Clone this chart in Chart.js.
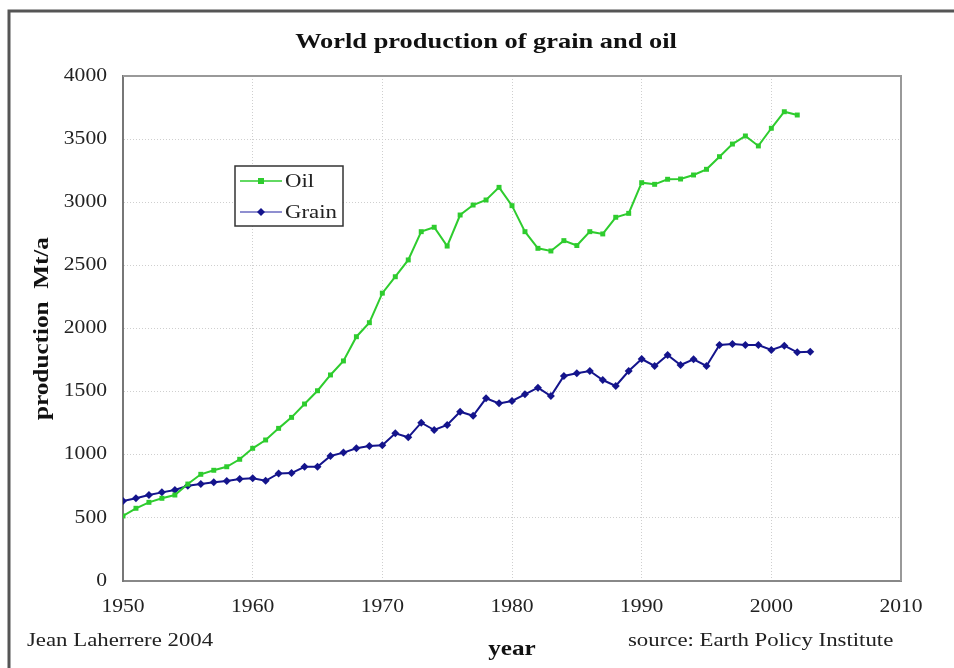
<!DOCTYPE html>
<html>
<head>
<meta charset="utf-8">
<title>World production of grain and oil</title>
<script src="https://cdn.jsdelivr.net/npm/chart.js@4"></script>
<style>
  html, body { margin: 0; padding: 0; background: #fff; }
  #wrap { position: relative; width: 954px; height: 668px; overflow: hidden; }
</style>
</head>
<body>
<div id="wrap">
  <canvas id="chart" width="954" height="668"></canvas>
</div>
<script>
// years on the x axis
const years = [1950, 1951, 1952, 1953, 1954, 1955, 1956, 1957, 1958, 1959,
  1960, 1961, 1962, 1963, 1964, 1965, 1966, 1967, 1968, 1969,
  1970, 1971, 1972, 1973, 1974, 1975, 1976, 1977, 1978, 1979,
  1980, 1981, 1982, 1983, 1984, 1985, 1986, 1987, 1988, 1989,
  1990, 1991, 1992, 1993, 1994, 1995, 1996, 1997, 1998, 1999,
  2000, 2001, 2002, 2003]

// Mt/a, oil stops at 2002
const oil = [515, 576, 623, 655, 681, 768, 845, 877, 905, 964,
  1051, 1117, 1209, 1296, 1402, 1507, 1632, 1743, 1935, 2046,
  2280, 2410, 2543, 2767, 2802, 2653, 2899, 2978, 3018, 3118,
  2973, 2767, 2635, 2614, 2696, 2657, 2767, 2749, 2881, 2912,
  3155, 3142, 3182, 3184, 3216, 3261, 3361, 3461, 3525, 3446,
  3586, 3717, 3691]

const grain = [634, 655, 681, 702, 721, 755, 768, 782, 792, 808,
  813, 794, 852, 855, 905, 905, 990, 1017, 1051, 1069,
  1075, 1170, 1138, 1254, 1196, 1236, 1341, 1309, 1447, 1407,
  1426, 1479, 1531, 1465, 1624, 1645, 1663, 1592, 1545, 1663,
  1758, 1703, 1790, 1711, 1756, 1703, 1869, 1877, 1869, 1869,
  1830, 1864, 1811, 1816]

const seriesNames = ["Oil", "Grain"]
const xTicks = [1950, 1960, 1970, 1980, 1990, 2000, 2010]
const yTicks = [0, 500, 1000, 1500, 2000, 2500, 3000, 3500, 4000]

const oilColor = "#2ecc2e"
const grainColor = "#14148c"
const serif = "'Liberation Serif', 'Times New Roman', serif"

const toPoints = vals => vals.map((v, i) => ({ x: years[i], y: v }))

// the original scan is a bit wide: stretch every text around its anchor
const stretchPlugin = {
  id: "stretchText",
  beforeInit(chart) {
    const ctx = chart.ctx
    const fill = ctx.fillText.bind(ctx)
    ctx.fillText = (text, x, y) => {
      ctx.save()
      ctx.translate(x, y)
      ctx.scale(1.2, 1)
      fill(text, 0, 0)
      ctx.restore()
    }
  }
}

// outer frame, title, footnotes
const framePlugin = {
  id: "frame",
  beforeDraw(chart) {
    const ctx = chart.ctx
    ctx.save()
    ctx.fillStyle = "#fff"
    ctx.fillRect(0, 0, chart.width, chart.height)
    ctx.strokeStyle = "#555"
    ctx.lineWidth = 3
    ctx.beginPath()
    ctx.moveTo(9, chart.height + 5)
    ctx.lineTo(9, 11)
    ctx.lineTo(chart.width + 5, 11)
    ctx.stroke()

    ctx.fillStyle = "#111"
    ctx.font = "bold 22px " + serif
    ctx.textAlign = "center"
    ctx.textBaseline = "middle"
    ctx.fillText("World production of grain and oil", 486, 42)
    ctx.restore()
  },
  afterDraw(chart) {
    const ctx = chart.ctx
    const area = chart.chartArea
    ctx.save()
    // top/right edge of plot area
    ctx.strokeStyle = "#999"
    ctx.lineWidth = 2
    ctx.beginPath()
    ctx.moveTo(area.left, area.top)
    ctx.lineTo(area.right, area.top)
    ctx.lineTo(area.right, area.bottom)
    ctx.stroke()
    // footnotes
    ctx.fillStyle = "#222"
    ctx.font = "19px " + serif
    ctx.textBaseline = "middle"
    ctx.textAlign = "left"
    ctx.fillText("Jean Laherrere 2004", 27, 641)
    ctx.fillText("source: Earth Policy Institute", 628, 641)
    ctx.restore()
  }
}

// legend box inside the plot
const legendPlugin = {
  id: "boxLegend",
  afterDatasetsDraw(chart) {
    const ctx = chart.ctx
    const box = { x: 235, y: 166, w: 108, h: 60 }
    ctx.save()
    ctx.fillStyle = "#fff"
    ctx.fillRect(box.x, box.y, box.w, box.h)
    ctx.strokeStyle = "#333"
    ctx.lineWidth = 1.5
    ctx.strokeRect(box.x, box.y, box.w, box.h)
    chart.data.datasets.forEach((ds, i) => {
      const y = box.y + 15 + i * 31
      ctx.strokeStyle = i === 0 ? ds.borderColor : "#6a6ac0"
      ctx.lineWidth = 1.5
      ctx.beginPath()
      ctx.moveTo(box.x + 5, y)
      ctx.lineTo(box.x + 47, y)
      ctx.stroke()
      ctx.fillStyle = ds.borderColor
      if (i === 0) {
        ctx.fillRect(box.x + 23, y - 3, 6, 6)
      } else {
        ctx.beginPath()
        ctx.moveTo(box.x + 26, y - 4)
        ctx.lineTo(box.x + 30, y)
        ctx.lineTo(box.x + 26, y + 4)
        ctx.lineTo(box.x + 22, y)
        ctx.closePath()
        ctx.fill()
      }
      ctx.fillStyle = "#222"
      ctx.font = "19px " + serif
      ctx.textAlign = "left"
      ctx.textBaseline = "middle"
      ctx.fillText(ds.label, box.x + 50, y + 1)
    })
    ctx.restore()
  }
}

new Chart(document.getElementById("chart"), {
  type: "line",
  data: {
    datasets: [
      {
        label: seriesNames[0],
        data: toPoints(oil),
        borderColor: oilColor,
        backgroundColor: oilColor,
        borderWidth: 2,
        pointStyle: "rect",
        pointRadius: 3.5,
        pointBorderWidth: 0,
      },
      {
        label: seriesNames[1],
        data: toPoints(grain),
        borderColor: grainColor,
        backgroundColor: grainColor,
        borderWidth: 2,
        pointStyle: "rectRot",
        pointRadius: 4,
        pointBorderWidth: 0,
      },
    ],
  },
  options: {
    responsive: false,
    animation: false,
    layout: { padding: { left: 0, right: 53, top: 76, bottom: 6 } },
    plugins: {
      legend: { display: false },
      tooltip: { enabled: false },
      title: { display: false },
    },
    scales: {
      x: {
        type: "linear",
        min: xTicks[0],
        max: xTicks[xTicks.length - 1],
        afterBuildTicks: axis => { axis.ticks = xTicks.map(v => ({ value: v })) },
        afterFit: axis => { axis.height = 81 },
        ticks: {
          callback: v => String(v),
          color: "#222",
          font: { family: serif, size: 18 },
          padding: 15,
          maxRotation: 0,
        },
        grid: { color: "#cfcfcf", drawTicks: false },
        border: { color: "#888", width: 2, dash: [1, 2] },
        title: {
          display: true,
          text: "year",
          color: "#111",
          font: { family: serif, size: 21, weight: "bold" },
          padding: 0,
        },
      },
      y: {
        min: yTicks[0],
        max: yTicks[yTicks.length - 1],
        afterBuildTicks: axis => { axis.ticks = yTicks.map(v => ({ value: v })) },
        afterFit: axis => { axis.width = 123 },
        ticks: {
          callback: v => String(v),
          color: "#222",
          font: { family: serif, size: 18 },
          padding: 16,
        },
        grid: { color: "#cfcfcf", drawTicks: false },
        border: { color: "#777", width: 2, dash: [1, 2] },
        title: {
          display: true,
          text: "production  Mt/a",
          color: "#111",
          font: { family: serif, size: 21, weight: "bold" },
          padding: { top: 30 },
        },
      },
    },
  },
  plugins: [stretchPlugin, framePlugin, legendPlugin],
})
</script>
</body>
</html>
